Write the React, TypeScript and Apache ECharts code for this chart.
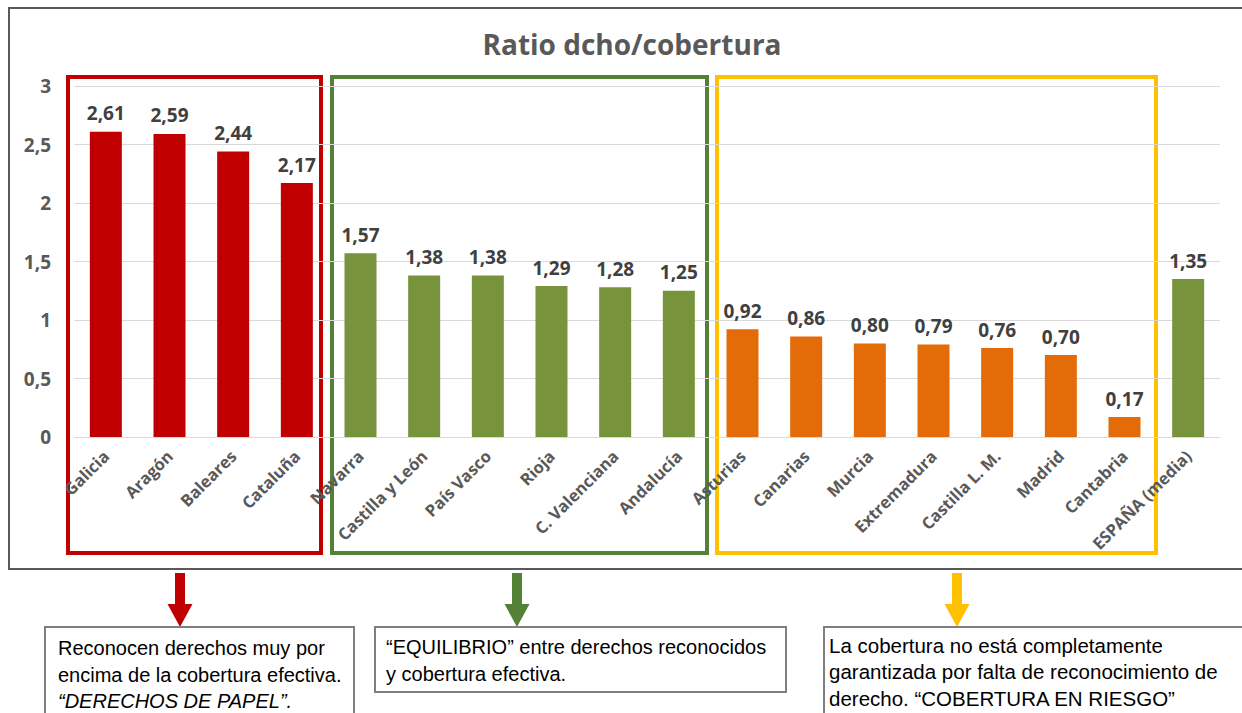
import React, { useEffect, useRef } from "react";
import * as echarts from "echarts";

const categories = [
  "Galicia", "Aragón", "Baleares", "Cataluña",
  "Navarra", "Castilla y León", "País Vasco", "Rioja", "C. Valenciana", "Andalucía",
  "Asturias", "Canarias", "Murcia", "Extremadura", "Castilla L. M.", "Madrid", "Cantabria",
  "ESPAÑA (media)",
];
const values = [2.61, 2.59, 2.44, 2.17, 1.57, 1.38, 1.38, 1.29, 1.28, 1.25, 0.92, 0.86, 0.8, 0.79, 0.76, 0.7, 0.17, 1.35];
const groups = ["red", "red", "red", "red", "green", "green", "green", "green", "green", "green",
  "orange", "orange", "orange", "orange", "orange", "orange", "orange", "green"];
const yTicks = { min: 0, max: 3, interval: 0.5 };
const title = "Ratio dcho/cobertura";
const notes = [
  ["Reconocen derechos muy por", "encima de la cobertura efectiva.", "“DERECHOS DE PAPEL”."],
  ["“EQUILIBRIO” entre derechos reconocidos", "y cobertura efectiva."],
  ["La cobertura no está completamente", "garantizada por falta de reconocimiento de", "derecho. “COBERTURA EN RIESGO”"],
];

const palette: Record<string, string> = { red: "#C00000", green: "#77933C", orange: "#E36C09" };
const boxColors = ["#C00000", "#538135", "#FFC000"];

export default function App() {
  const ref = useRef<HTMLDivElement>(null);
  useEffect(() => {
    if (!ref.current) return;
    const chart = echarts.init(ref.current, undefined, { renderer: "svg" });
    const font = "'Open Sans', sans-serif";
    const arial = "'Liberation Sans', Arial, sans-serif";

    const arrow = (x: number, color: string) => ([
      { type: "rect", shape: { x: x - 5, y: 573, width: 10, height: 33 }, style: { fill: color } },
      { type: "polygon", shape: { points: [[x - 12.5, 604], [x + 12.5, 604], [x, 627]] }, style: { fill: color } },
    ]);

    const noteBox = (x: number, y: number, w: number, h: number, pad: number, firstY: number, fs: number, lines: string[], italicLast: boolean) => {
      const els: any[] = [
        { type: "rect", shape: { x, y, width: w, height: h }, style: { fill: "#fff", stroke: "#7F7F7F", lineWidth: 2 } },
      ];
      lines.forEach((l, i) => {
        els.push({
          type: "text", x: x + pad, y: firstY + i * 26.5,
          style: {
            text: l, fill: "#000", font: `${italicLast && i === lines.length - 1 ? "italic " : ""}${fs}px ${arial}`,
            textVerticalAlign: "middle",
          },
        });
      });
      return els;
    };

    chart.setOption({
      animation: false,
      title: {
        text: title, left: 627, top: 25, textAlign: "center",
        textStyle: { fontFamily: font, fontWeight: "bold", fontSize: 28, color: "#595959" },
      },
      grid: { left: 74, right: 22, top: 86, bottom: 276, containLabel: false },
      xAxis: {
        type: "category", data: categories,
        axisLine: { lineStyle: { color: "#D9D9D9" } },
        axisTick: { show: false },
        axisLabel: { rotate: 45, interval: 0, margin: 16, fontFamily: font, fontWeight: "bold", fontSize: 16.5, color: "#595959" },
      },
      yAxis: {
        type: "value", ...yTicks,
        axisLine: { show: false }, axisTick: { show: false },
        splitLine: { lineStyle: { color: "#D9D9D9" } },
        axisLabel: {
          margin: 23, fontFamily: font, fontWeight: "bold", fontSize: 19, color: "#595959",
          formatter: (v: number) => String(v).replace(".", ","),
        },
      },
      series: [{
        type: "bar", barWidth: 32,
        data: values.map((v, i) => ({ value: v, itemStyle: { color: palette[groups[i]] } })),
        label: {
          show: true, position: "top", distance: 9,
          fontFamily: font, fontWeight: "bold", fontSize: 19, color: "#404040",
          formatter: (p: any) => p.value.toFixed(2).replace(".", ","),
        },
      }],
      graphic: [
        { type: "rect", z: 0, shape: { x: 9, y: 8, width: 1260, height: 561 }, style: { fill: "none", stroke: "#595959", lineWidth: 2 } },
        { type: "rect", shape: { x: 68, y: 77, width: 253, height: 476 }, style: { fill: "none", stroke: boxColors[0], lineWidth: 4 } },
        { type: "rect", shape: { x: 332, y: 77, width: 375, height: 476 }, style: { fill: "none", stroke: boxColors[1], lineWidth: 4 } },
        { type: "rect", shape: { x: 717, y: 77, width: 439, height: 476 }, style: { fill: "none", stroke: boxColors[2], lineWidth: 4 } },
        ...arrow(180, "#C00000"),
        ...arrow(517, "#538135"),
        ...arrow(957, "#FFC000"),
        ...noteBox(45, 627, 309, 100, 13, 648, 20, notes[0], true),
        ...noteBox(375, 627, 411, 65, 11, 647, 20, notes[1], false),
        ...noteBox(824, 627, 430, 100, 5, 645, 20.5, notes[2], false),
      ],
    });
    return () => chart.dispose();
  }, []);
  return <div ref={ref} style={{ position: "fixed", left: 0, top: 0, width: 1242, height: 713, background: "#fff" }} />;
}
